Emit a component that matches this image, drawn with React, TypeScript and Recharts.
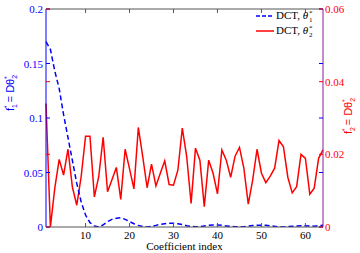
import React from "react";
import { LineChart, Line, XAxis, YAxis, ReferenceLine } from "recharts";

const indices: number[] = Array.from({ length: 64 }, (_, i) => i + 1);
const theta1: number[] = [
  0.17, 0.163, 0.143, 0.127, 0.103, 0.082, 0.061, 0.04, 0.023, 0.011,
  0.004, 0.001, 0.0, 0.002, 0.005, 0.007, 0.008, 0.0085, 0.007, 0.005,
  0.003, 0.0015, 0.0005, 0.0, 0.0005, 0.0015, 0.0025, 0.003, 0.0035, 0.0035,
  0.003, 0.0022, 0.0012, 0.0005, 0.0002, 0.0004, 0.001, 0.0015, 0.0018, 0.0018,
  0.0015, 0.001, 0.0005, 0.0002, 0.0001, 0.0003, 0.0008, 0.0013, 0.0016, 0.0017,
  0.0015, 0.0011, 0.0006, 0.0002, 0.0001, 0.0003, 0.0007, 0.001, 0.0012, 0.0012,
  0.001, 0.0008, 0.0012, 0.0015,
];
const theta2: number[] = [
  0.034, 0.0, 0.0107, 0.0186, 0.0143, 0.0214, 0.011, 0.006, 0.0139, 0.025,
  0.025, 0.0083, 0.0139, 0.0247, 0.0097, 0.013, 0.0164, 0.0076, 0.0214, 0.016,
  0.0105, 0.0274, 0.0194, 0.0108, 0.0173, 0.0113, 0.0148, 0.0182, 0.0117, 0.0115,
  0.0157, 0.0272, 0.0194, 0.0065, 0.0217, 0.0184, 0.0056, 0.0184, 0.0148, 0.0091,
  0.0212, 0.0184, 0.0137, 0.0195, 0.0219, 0.0162, 0.0063, 0.0129, 0.0214, 0.0148,
  0.0122, 0.014, 0.0162, 0.0238, 0.0221, 0.0137, 0.0094, 0.0111, 0.02, 0.0189,
  0.009, 0.0107, 0.0189, 0.0212,
];
const xTicks: number[] = [10, 20, 30, 40, 50, 60];
const leftTicks: number[] = [0, 0.05, 0.1, 0.15, 0.2];
const rightTicks: number[] = [0, 0.02, 0.04, 0.06];
const legendNames: string[] = ["1", "2"];

const data = indices.map((k, i) => ({ k, t1: theta1[i], t2: theta2[i] }));

const BLUE = "#0000FF";
const RED = "#FF0000";
const GRAY = "#555555";
const SERIF = "'Liberation Serif', 'DejaVu Serif', serif";
const SANS = "'Liberation Sans', Arial, sans-serif";

const PL = 46;
const PR = 323;
const PT = 9;
const PB = 227;

const fmt = (v: number) => (v === 0 ? "0" : String(v));

const LeftTick = (props: any) => {
  const { y, payload } = props;
  return (
    <g>
      <line x1={PL} x2={PL + 4} y1={y} y2={y} stroke={BLUE} strokeWidth={1} />
      <line x1={PR} x2={PR - 4} y1={y} y2={y} stroke={BLUE} strokeWidth={1} />
      <text x={PL - 3} y={y + 4} textAnchor="end" fill={BLUE} fontSize={11} fontFamily={SERIF}>
        {fmt(payload.value)}
      </text>
    </g>
  );
};

const RightTick = (props: any) => {
  const { y, payload } = props;
  return (
    <g>
      <line x1={PR} x2={PR - 4} y1={y} y2={y} stroke={RED} strokeWidth={1} />
      <line x1={PL} x2={PL + 4} y1={y} y2={y} stroke={RED} strokeWidth={1} />
      <text x={PR + 2} y={y + 4} textAnchor="start" fill={RED} fontSize={11} fontFamily={SERIF}>
        {fmt(payload.value)}
      </text>
    </g>
  );
};

const BottomTick = (props: any) => {
  const { x, payload } = props;
  return (
    <g>
      <line x1={x} x2={x} y1={PB} y2={PB - 4} stroke={GRAY} strokeWidth={1} />
      <line x1={x} x2={x} y1={PT} y2={PT + 4} stroke={GRAY} strokeWidth={1} />
      <text x={x} y={PB + 12} textAnchor="middle" fill="#000" fontSize={11} fontFamily={SERIF}>
        {payload.value}
      </text>
    </g>
  );
};

const AxisTitle = ({ x, y, color, sub }: { x: number; y: number; color: string; sub: string }) => (
  <text
    x={x}
    y={y}
    transform={`rotate(-90 ${x} ${y})`}
    textAnchor="middle"
    fill={color}
    fontSize={11}
    fontFamily={SANS}
  >
    f
    <tspan fontSize={7} dy={3}>{sub}</tspan>
    <tspan fontSize={7} dx={-4} dy={-8}>*</tspan>
    <tspan dy={5}> = Dθ</tspan>
    <tspan fontSize={7} dy={3}>2</tspan>
    <tspan fontSize={7} dx={-4} dy={-8}>*</tspan>
  </text>
);

const LegendRow = ({ dashed, color, sub, top }: { dashed: boolean; color: string; sub: string; top: number }) => (
  <div style={{ position: "absolute", left: 255, top, height: 15, display: "flex", alignItems: "center" }}>
    <svg width={20} height={10} style={{ marginRight: 1 }}>
      <line
        x1={1}
        x2={19}
        y1={5}
        y2={5}
        stroke={color}
        strokeWidth={1.5}
        strokeDasharray={dashed ? "4 2" : undefined}
      />
    </svg>
    <span style={{ fontFamily: SERIF, fontSize: 11, color: "#000", whiteSpace: "nowrap", lineHeight: "15px" }}>
      DCT, <i>θ</i>
    </span>
    <span
      style={{
        display: "inline-flex",
        flexDirection: "column",
        fontFamily: SERIF,
        fontSize: 7,
        lineHeight: "7px",
        marginLeft: 1,
        marginTop: 2,
      }}
    >
      <span>*</span>
      <span>{sub}</span>
    </span>
  </div>
);

export default function App() {
  return (
    <div style={{ position: "absolute", left: 0, top: 0, width: 360, height: 253, background: "#fff" }}>
      <LineChart width={360} height={253} data={data} margin={{ top: PT, right: 0, left: 0, bottom: 0 }}>
        <XAxis
          dataKey="k"
          type="number"
          domain={[1, 64]}
          ticks={xTicks}
          height={253 - PB}
          tickSize={0}
          tickMargin={0}
          tickLine={false}
          axisLine={{ stroke: GRAY }}
          tick={<BottomTick />}
          interval={0}
          label={{ value: "Coefficient index", position: "insideBottom", offset: 3, fill: "#000", fontSize: 11, fontFamily: SERIF }}
        />
        <YAxis
          yAxisId="left"
          orientation="left"
          width={PL}
          domain={[0, 0.2]}
          ticks={leftTicks}
          tickSize={0}
          tickMargin={0}
          tickLine={false}
          axisLine={{ stroke: BLUE }}
          tick={<LeftTick />}
          interval={0}
          allowDataOverflow
        />
        <YAxis
          yAxisId="right"
          orientation="right"
          width={360 - PR}
          domain={[0, 0.06]}
          ticks={rightTicks}
          tickSize={0}
          tickMargin={0}
          tickLine={false}
          axisLine={{ stroke: "#8A1A9A" }}
          tick={<RightTick />}
          interval={0}
          allowDataOverflow
        />
        <ReferenceLine yAxisId="left" y={0.2} stroke={GRAY} strokeWidth={1} />
        <Line
          yAxisId="right"
          dataKey="t2"
          stroke={RED}
          strokeWidth={1.5}
          dot={false}
          isAnimationActive={false}
        />
        <Line
          yAxisId="left"
          dataKey="t1"
          stroke={BLUE}
          strokeWidth={1.5}
          strokeDasharray="5 3"
          dot={false}
          isAnimationActive={false}
        />
        <AxisTitle x={14} y={93} color={BLUE} sub="1" />
        <AxisTitle x={352} y={116} color={RED} sub="2" />
      </LineChart>
      <LegendRow dashed color={BLUE} sub={legendNames[0]} top={8} />
      <LegendRow dashed={false} color={RED} sub={legendNames[1]} top={23} />
    </div>
  );
}
